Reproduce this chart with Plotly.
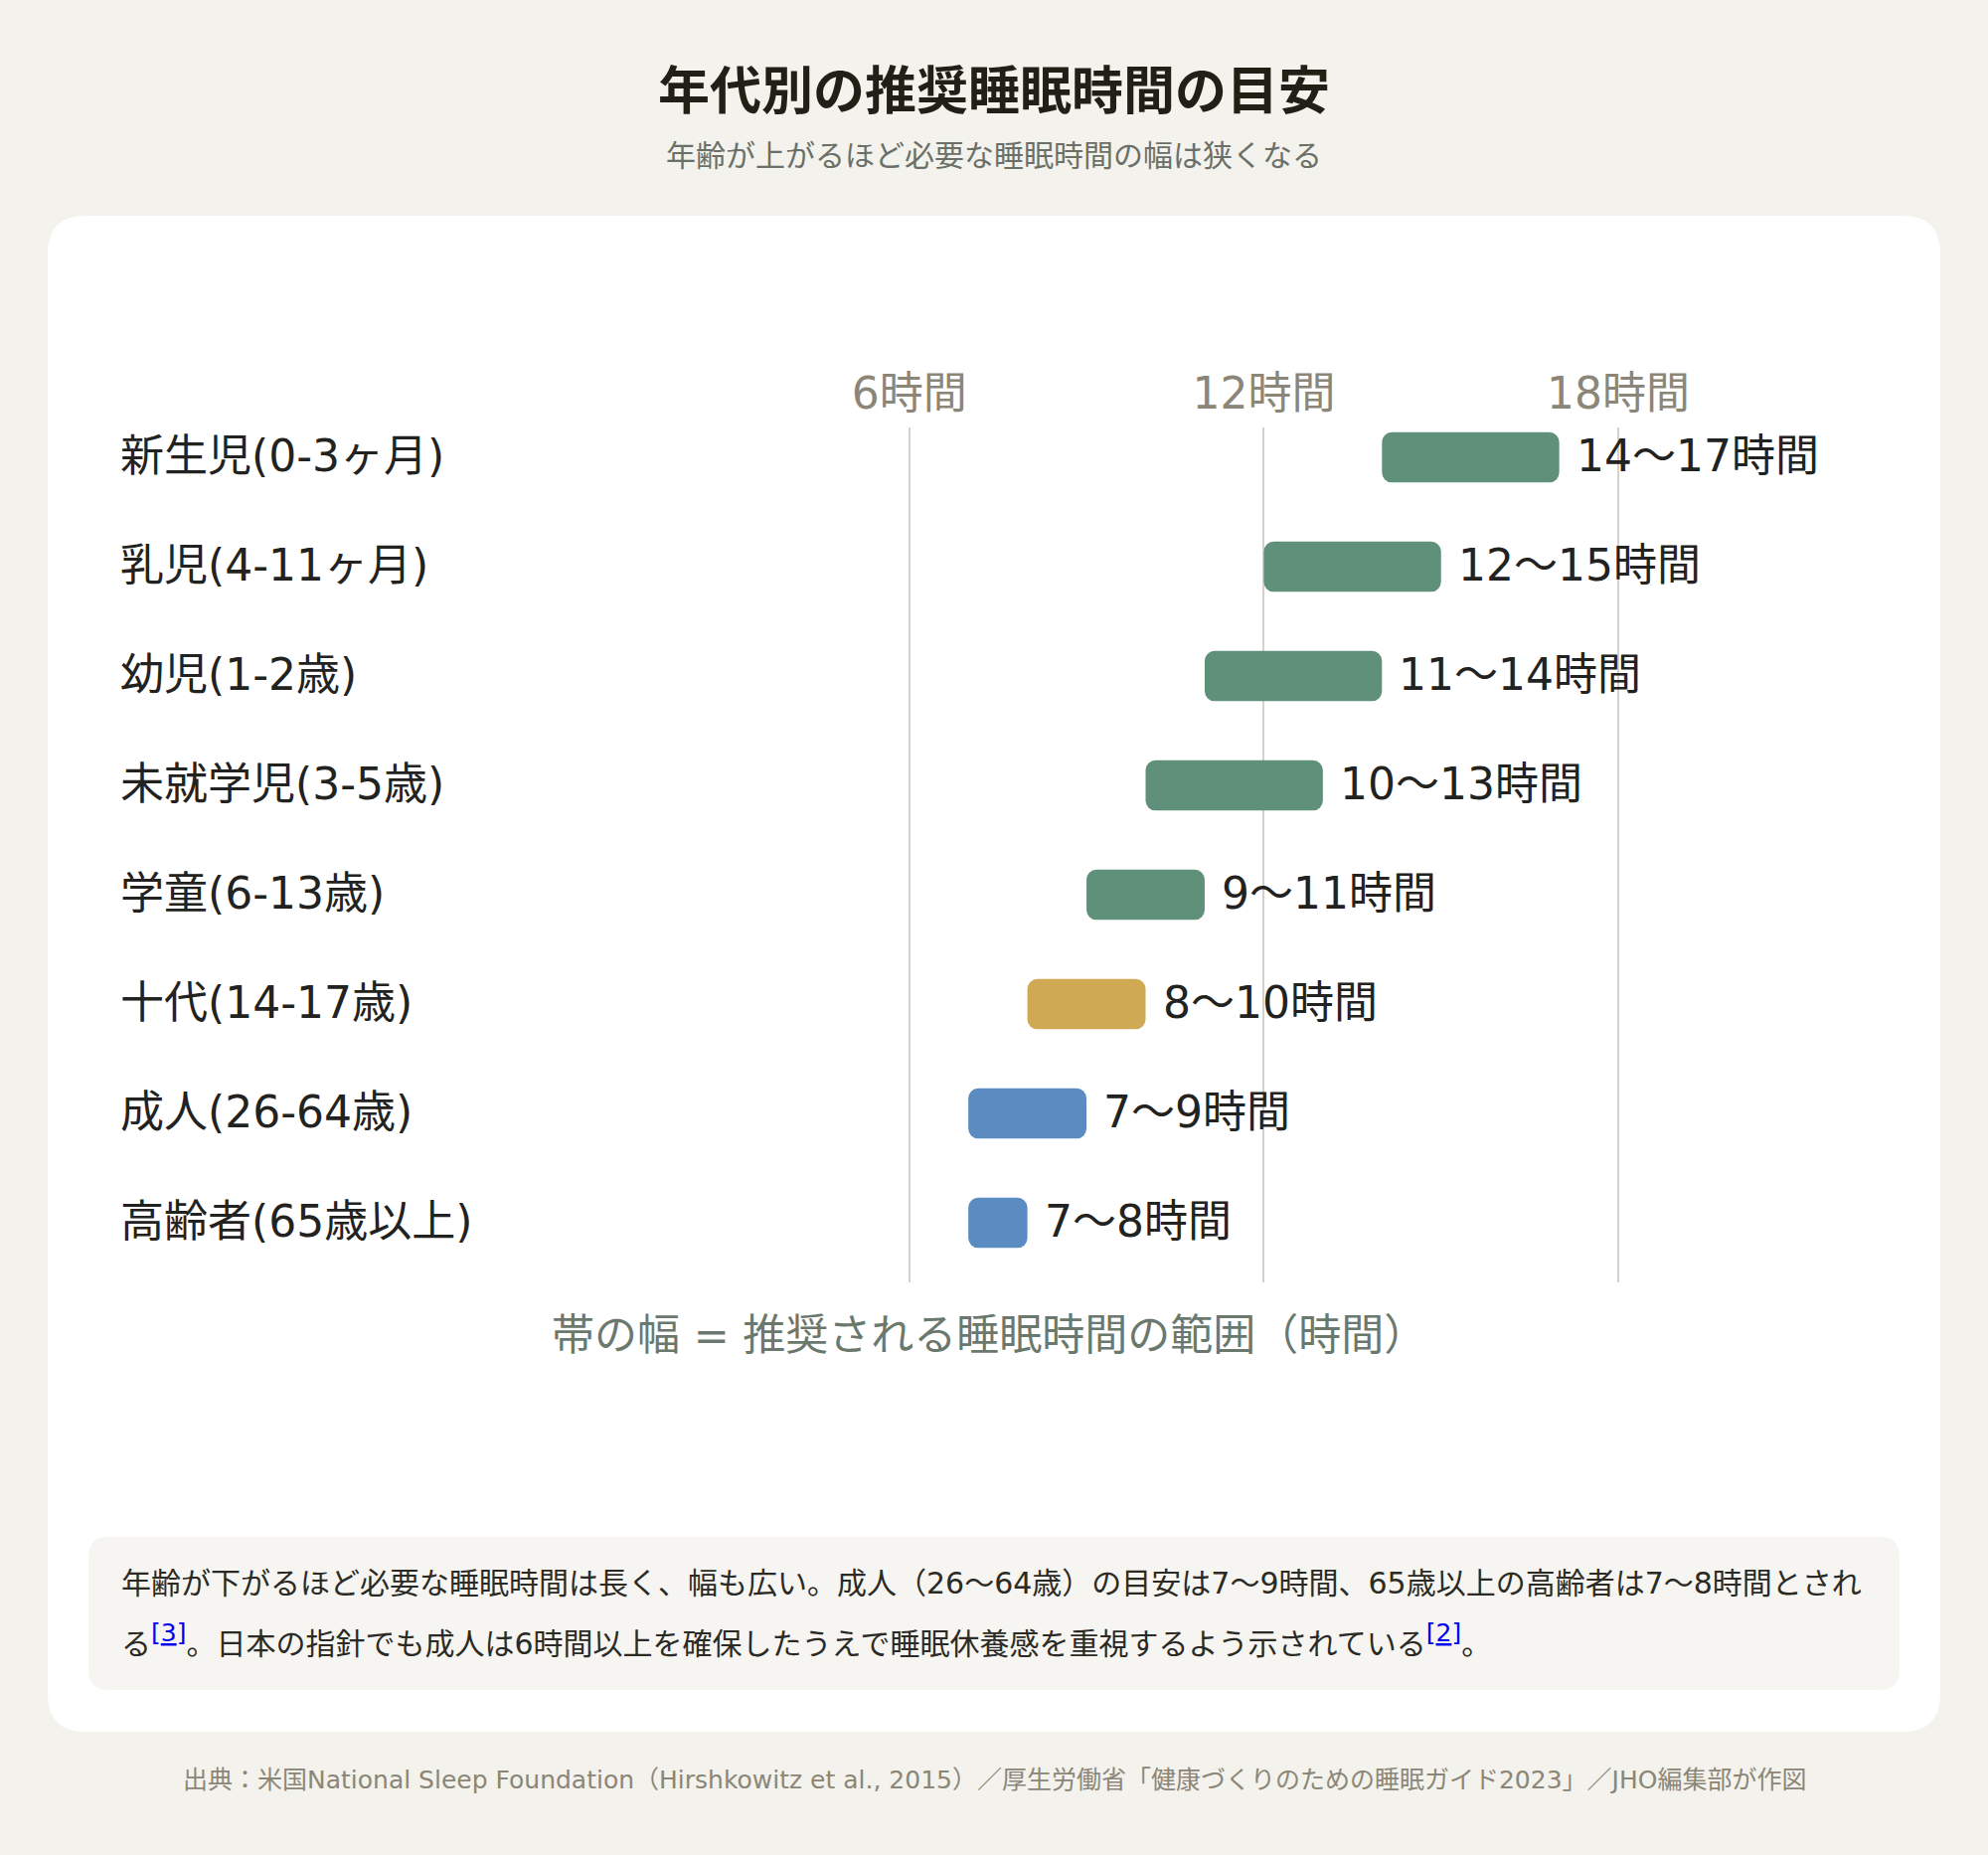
import plotly.graph_objects as go

# data
groups = ["新生児(0-3ヶ月)", "乳児(4-11ヶ月)", "幼児(1-2歳)", "未就学児(3-5歳)",
          "学童(6-13歳)", "十代(14-17歳)", "成人(26-64歳)", "高齢者(65歳以上)"]
sleep_min = [14, 12, 11, 10, 9, 8, 7, 7]
sleep_max = [17, 15, 14, 13, 11, 10, 9, 8]
group_kind = ["child", "child", "child", "child", "child", "teen", "adult", "adult"]
tick_hours = [6, 12, 18]
tick_text = ["6時間", "12時間", "18時間"]

colors = {"child": "#5f917a", "teen": "#cfa954", "adult": "#5a8bc1"}
FONT = "DejaVu Sans, Noto Sans CJK JP, sans-serif"

W, H = 2000, 1866
L, R, T, B = 558, 1747, 430, 1290  # plot area in pixels


def px_x(p):
    return (p - L) / (R - L)


def px_y(p):
    return (B - p) / (B - T)


def rounded_rect(x0, y0, x1, y1, r):
    # pixel box -> paper path with rounded corners
    rx = r / (R - L)
    ry = r / (B - T)
    a, b, c, d = px_x(x0), px_y(y1), px_x(x1), px_y(y0)
    return (f"M{a+rx},{b} L{c-rx},{b} Q{c},{b} {c},{b+ry} L{c},{d-ry} Q{c},{d} {c-rx},{d} "
            f"L{a+rx},{d} Q{a},{d} {a},{d-ry} L{a},{b+ry} Q{a},{b} {a+rx},{b} Z")


def ref(n):
    return (f"<sup><span style='font-size:25px;fill:#0000ee'>[<span style='text-decoration:underline'>"
            f"{n}</span>]</span></sup>")


fig = go.Figure()
fig.add_trace(go.Bar(
    y=groups,
    x=[hi - lo for lo, hi in zip(sleep_min, sleep_max)],
    base=sleep_min,
    orientation="h",
    width=0.46,
    marker=dict(color=[colors[k] for k in group_kind], line=dict(width=0)),
    hoverinfo="skip",
))

annotations = []
for g, lo, hi in zip(groups, sleep_min, sleep_max):
    annotations.append(dict(x=hi, y=g, xref="x", yref="y", text=f"{lo}〜{hi}時間",
                            showarrow=False, xanchor="left", yanchor="middle",
                            xshift=15, yshift=2,
                            font=dict(size=44, color="#222220", family=FONT)))
    annotations.append(dict(x=px_x(119), y=g, xref="paper", yref="y", text=g,
                            showarrow=False, xanchor="left", yanchor="middle", yshift=2,
                            font=dict(size=44, color="#222220", family=FONT)))

annotations += [
    dict(x=px_x(1000), y=px_y(92), xref="paper", yref="paper",
         text="<b>年代別の推奨睡眠時間の目安</b>", showarrow=False,
         xanchor="center", yanchor="middle",
         font=dict(size=52, color="#221f17", family=FONT)),
    dict(x=px_x(1000), y=px_y(157), xref="paper", yref="paper",
         text="年齢が上がるほど必要な睡眠時間の幅は狭くなる", showarrow=False,
         xanchor="center", yanchor="middle",
         font=dict(size=30, color="#6a7068", family=FONT)),
    dict(x=px_x(995), y=px_y(1343), xref="paper", yref="paper",
         text="帯の幅 = 推奨される睡眠時間の範囲（時間）", showarrow=False,
         xanchor="center", yanchor="middle",
         font=dict(size=43, color="#6b786d", family=FONT)),
    dict(x=px_x(120), y=px_y(1592), xref="paper", yref="paper",
         xanchor="left", yanchor="middle",
         text="年齢が下がるほど必要な睡眠時間は長く、幅も広い。成人（26〜64歳）の目安は7〜9時間、65歳以上の高齢者は7〜8時間とされ",
         showarrow=False, font=dict(size=30, color="#2b2a25", family=FONT)),
    dict(x=px_x(120), y=px_y(1649), xref="paper", yref="paper",
         xanchor="left", yanchor="middle",
         text=(f"る{ref(3)}。日本の指針でも成人は6時間以上を確保したうえで"
               f"睡眠休養感を重視するよう示されている{ref(2)}。"),
         showarrow=False, font=dict(size=30, color="#2b2a25", family=FONT)),
    dict(x=px_x(1000), y=px_y(1790), xref="paper", yref="paper",
         xanchor="center", yanchor="middle",
         text="出典：米国National Sleep Foundation（Hirshkowitz et al., 2015）／厚生労働省「健康づくりのための睡眠ガイド2023」／JHO編集部が作図",
         showarrow=False, font=dict(size=25, color="#8b8677", family=FONT)),
]

shapes = [
    dict(type="path", xref="paper", yref="paper", layer="below",
         path=rounded_rect(48, 217, 1952, 1742, 38),
         fillcolor="#ffffff", line=dict(width=0)),
    dict(type="path", xref="paper", yref="paper", layer="below",
         path=rounded_rect(89, 1546, 1911, 1700, 20),
         fillcolor="#f6f5f1", line=dict(width=0)),
]

fig.update_layout(
    width=W, height=H,
    margin=dict(l=L, r=W - R, t=T, b=H - B, pad=0),
    paper_bgcolor="#f3f2ec",
    plot_bgcolor="rgba(0,0,0,0)",
    showlegend=False,
    barcornerradius=10,
    font=dict(family=FONT),
    annotations=annotations,
    shapes=shapes,
    xaxis=dict(range=[0, 20], side="top", tickvals=tick_hours, ticktext=tick_text,
               tickfont=dict(size=44, color="#8b8677"), showgrid=True,
               gridcolor="#d3d1c8", gridwidth=1.5, zeroline=False, showline=False,
               ticks="", ticklabelstandoff=9, fixedrange=True),
    yaxis=dict(range=[7.545, -0.273], showticklabels=False, showgrid=False,
               zeroline=False, showline=False, ticks="", fixedrange=True),
)

fig.write_html("out.html", config={"displayModeBar": False},
               post_script="document.body.style.margin='0';")
